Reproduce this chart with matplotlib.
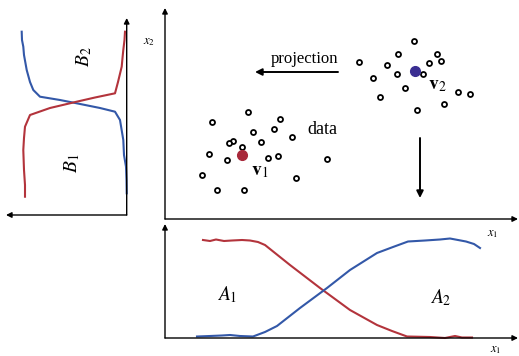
import matplotlib.pyplot as plt
import numpy as np

RED = '#b3343c'
BLUE = '#3358a8'

# scatter points (figure pixel coords)
c2_x = [414, 398, 437, 441, 429, 359, 387, 397, 423, 373, 405, 458, 470, 380, 444, 417]
c2_y = [41, 54, 54, 61, 63, 62, 65, 74, 74, 78, 88, 92, 94, 97, 104, 110]
c1_x = [248, 212, 280, 274, 253, 292, 233, 229, 261, 242, 209, 268, 278, 227, 327, 202, 296, 217, 244]
c1_y = [112, 122, 119, 129, 132, 137, 141, 143, 142, 147, 154, 158, 156, 160, 159, 175, 178, 190, 190]
v1 = (241.7, 154.5)
v2 = (415, 71)

# bottom panel curves
a1_x = [203, 210, 216, 224, 232, 242, 250, 258, 265, 290, 320, 350, 377, 392, 407, 430, 445, 455, 462, 472]
a1_y = [240, 241, 239.5, 241, 240.5, 240, 240.5, 242, 245, 265, 288, 310, 325, 331, 336.5, 337, 338, 336, 337.5, 337.5]
a2_x = [197, 210, 222, 230, 240, 253, 265, 277, 300, 327, 350, 377, 393, 408, 425, 440, 450, 458, 466, 474, 480]
a2_y = [336.5, 336, 335.5, 335, 336, 336.5, 332, 326, 308, 288, 270, 253, 247, 241.5, 240.5, 239.5, 238.5, 240, 241.5, 244, 248]

# left panel curves
b2_x = [21.7, 22, 23.3, 24, 26.7, 30, 33.3, 40, 60, 76.7, 100, 115, 120, 123.3, 124, 126, 126.5, 126.7]
b2_y = [31.7, 40, 46.7, 55, 70, 82, 90, 96.7, 100, 103.3, 108, 111.7, 120, 140, 155, 166.7, 180, 193.3]
b1_x = [125, 124.5, 123.3, 122.5, 121.7, 118, 115, 95, 76.7, 50, 30, 25, 24, 23.3, 24, 25, 25]
b1_y = [31.7, 40, 50, 58, 66.7, 82, 93.3, 97.5, 101.7, 108, 115, 126.7, 138, 150, 170, 185, 196.7]

fig = plt.figure(figsize=(5.19, 3.56), dpi=100)
ax = fig.add_axes([0, 0, 1, 1])
ax.set_xlim(0, 519)
ax.set_ylim(356, 0)
ax.axis('off')

serif = 'Liberation Serif'


def arrow(x0, y0, x1, y1, lw=1.0, ms=8):
    ax.annotate('', xy=(x1, y1), xytext=(x0, y0),
                arrowprops=dict(arrowstyle='-|>', color='black', lw=lw,
                                mutation_scale=ms, shrinkA=0, shrinkB=0))


# main panel axes
arrow(165, 219, 165, 8)
arrow(165, 219, 518, 219)
# bottom panel axes
arrow(165, 338, 165, 224)
arrow(165, 338, 518, 338)
# left panel axes
arrow(126.7, 215, 126.7, 18)
arrow(126.7, 215, 6, 215)

# projection arrows
arrow(338, 72, 255, 72, lw=1.4, ms=10)
arrow(420, 138, 420, 198, lw=1.4, ms=10)

ax.plot(c1_x, c1_y, 'o', ms=3.6, mfc='white', mec='black', mew=1.3)
ax.plot(c2_x, c2_y, 'o', ms=3.6, mfc='white', mec='black', mew=1.3)
ax.plot(*v1, 'o', ms=7, color='#a8283a')
ax.plot(*v2, 'o', ms=7, color='#3a2e92')

ax.plot(a1_x, a1_y, color=RED, lw=1.5)
ax.plot(a2_x, a2_y, color=BLUE, lw=1.5)
ax.plot(b2_x, b2_y, color=BLUE, lw=1.5)
ax.plot(b1_x, b1_y, color=RED, lw=1.5)

ax.text(304, 59, 'projection', family=serif, fontsize=12, ha='center', va='center')
ax.text(322, 130, 'data', family=serif, fontsize=13, ha='center', va='center')
ax.text(260, 171, r'$\mathbf{v}_1$', fontsize=14, ha='center', va='center',
        math_fontfamily='stix')
ax.text(437, 84, r'$\mathbf{v}_2$', fontsize=14, ha='center', va='center',
        math_fontfamily='stix')
ax.text(227, 295, r'$A_1$', fontsize=14, ha='center', va='center', math_fontfamily='stix')
ax.text(441, 298, r'$A_2$', fontsize=14, ha='center', va='center', math_fontfamily='stix')
ax.text(84, 57, r'$B_2$', fontsize=14, ha='center', va='center', rotation=90,
        math_fontfamily='stix')
ax.text(72, 163, r'$B_1$', fontsize=14, ha='center', va='center', rotation=90,
        math_fontfamily='stix')
ax.text(149, 42, r'$x_2$', fontsize=9, ha='center', va='center', math_fontfamily='stix')
ax.text(493, 233, r'$x_1$', fontsize=9, ha='center', va='center', math_fontfamily='stix')
ax.text(496, 350, r'$x_1$', fontsize=9, ha='center', va='center', math_fontfamily='stix')

fig.savefig('out.png', dpi=100)
